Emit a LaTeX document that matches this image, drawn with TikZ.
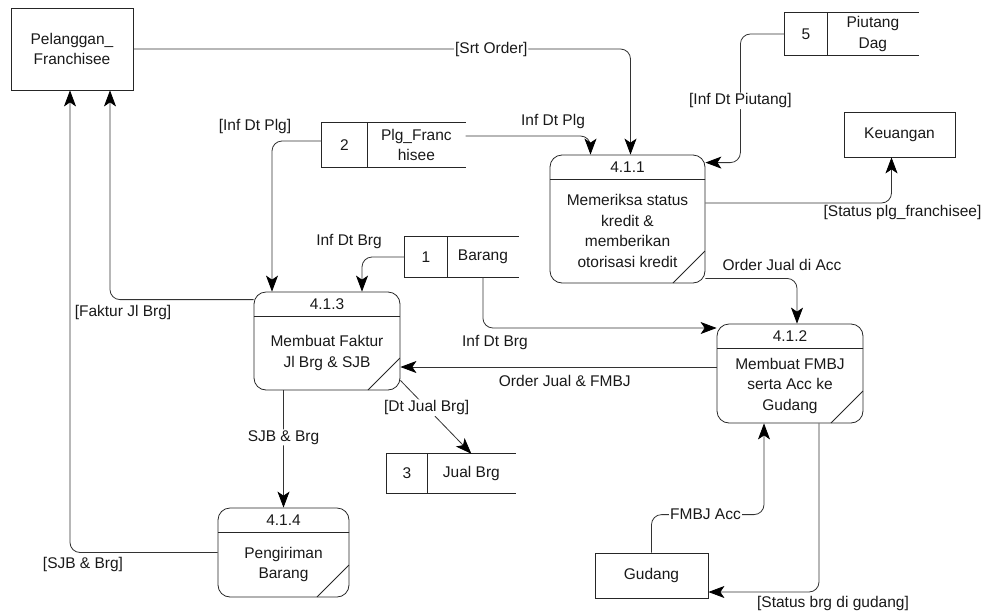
\documentclass[tikz,border=0pt]{standalone}
\usepackage{fontspec}
\setmainfont{Liberation Sans}
\usetikzlibrary{positioning,arrows.meta}

\begin{document}
\begin{tikzpicture}[x=1pt, y=-1pt,
  every node/.style={font=\fontsize{15.5}{20.5}\selectfont, text=black!90, align=center},
  ent/.style={rectangle, draw=black!85, line width=0.8pt, inner sep=0pt},
  proc/.style={rectangle, rounded corners=12pt, draw=black!85, line width=0.8pt, inner sep=0pt,
    path picture={\draw[sharp corners, line width=0.8pt, black!85]
      ([yshift=-24.5pt]path picture bounding box.north west) -- ([yshift=-24.5pt]path picture bounding box.north east)
      ([xshift=-32pt]path picture bounding box.south east) -- ([yshift=32pt]path picture bounding box.south east);}},
  num/.style={rectangle, minimum width=42pt, inner sep=0pt},
  store/.style={rectangle, inner sep=0pt},
  edge/.style={draw=black!85, line width=0.8pt, sharp corners},
  flow/.style={draw=black!80, line width=0.8pt, rounded corners=10pt, -{Stealth[length=16pt, width=12pt, inset=4pt, black]}},
  lbl/.style={fill=white, inner sep=1pt},
  txt/.style={inner sep=1pt},
]
\useasboundingbox (0,0) rectangle (989,614);

% externals
\node[ent, minimum width=122pt, minimum height=82pt] (pel) at (72,49) {Pelanggan\_\\Franchisee};
\node[ent, minimum width=111pt, minimum height=45pt] (keu) at (899.5,134.5) {Keuangan};
\node[ent, minimum width=113pt, minimum height=45pt] (gud) at (651.5,575.5) {Gudang};

% processes
\node[proc, minimum width=155pt, minimum height=128pt] (p411) at (627.5,219) {};
\node (h411) at ([yshift=-12.5pt]p411.north) {4.1.1};
\node (b411) at ([yshift=-12pt]p411.center) {Memeriksa status\\kredit \&\\memberikan\\otorisasi kredit};

\node[proc, minimum width=146pt, minimum height=99pt] (p412) at (790,373.5) {};
\node (h412) at ([yshift=-12.5pt]p412.north) {4.1.2};
\node (b412) at ([yshift=-12pt]p412.center) {Membuat FMBJ\\serta Acc ke\\Gudang};

\node[proc, minimum width=146pt, minimum height=98pt] (p413) at (327,341) {};
\node (h413) at ([yshift=-12.5pt]p413.north) {4.1.3};
\node (b413) at ([yshift=-12pt]p413.center) {Membuat Faktur\\Jl Brg \& SJB};

\node[proc, minimum width=131pt, minimum height=89pt] (p414) at (283.5,552.5) {};
\node (h414) at ([yshift=-12.5pt]p414.north) {4.1.4};
\node (b414) at ([yshift=-12pt]p414.center) {Pengiriman\\Barang};

% data stores
\node[num, minimum width=45pt, minimum height=44pt] (n2) at (344.5,145) {2};
\node[store, minimum width=98pt, minimum height=44pt, right=0pt of n2] (s2) {Plg\_Franc\\hisee};
\node[num, minimum height=42pt] (n5) at (806,34) {5};
\node[store, minimum width=91pt, minimum height=42pt, right=0pt of n5] (s5) {Piutang\\Dag};
\node[num, minimum height=40pt] (n1) at (426,257) {1};
\node[store, minimum width=71pt, minimum height=40pt, right=0pt of n1] (s1) {Barang};
\node[num, minimum width=40pt, minimum height=39pt] (n3) at (407,473.5) {3};
\node[store, minimum width=88pt, minimum height=39pt, right=0pt of n3] (s3) {Jual Brg};
\foreach \n/\s in {n2/s2, n5/s5, n1/s1, n3/s3}
  \draw[edge] (\s.north east) -- (\n.north west) -- (\n.south west) -- (\s.south east)
    (\n.north east) -- (\n.south east);

% flows
\draw[flow] (pel.east) -| node[lbl, pos=0.36] (l1) {[Srt Order]} ([xshift=3pt]p411.north);
\draw[flow] ([yshift=9pt]s2.east) -| node[txt, pos=0.35, above=6pt] (l2) {Inf Dt Plg} ([xshift=-37pt]p411.north);
\draw[flow] ([yshift=4pt]n2.west) -| node[txt, pos=0.5, above=6pt, xshift=-17pt] (l3) {[Inf Dt Plg]} ([xshift=-55pt]p413.north);
\draw[flow] (n5.west) -| node[lbl, pos=0.76] (l4) {[Inf Dt Piutang]} ([xshift=35pt, yshift=-8pt]p411.north east) -- ([yshift=-8pt]p411.north east);
\draw[flow] ([yshift=16pt]p411.east) -| node[txt, pos=0.5, below=1pt, xshift=11pt] (l5) {[Status plg\_franchisee]} ([xshift=-8pt]keu.south);
\draw[flow] ([yshift=5pt]p411.south east) -| node[txt, pos=0.5, above=6pt, xshift=-15pt] (l6) {Order Jual di Acc} ([xshift=7pt]p412.north);
\draw[flow] (n1.west) -| node[txt, pos=0.5, above=7pt, xshift=-13pt] (l7) {Inf Dt Brg} ([xshift=35pt]p413.north);
\draw[flow] (s1.south) |- node[txt, pos=0.5, below=6pt, xshift=12pt] (l8) {Inf Dt Brg} ([yshift=45.5pt]p412.west);
\draw[flow] ([yshift=6.5pt]p412.west) -- node[txt, pos=0.48, below=7pt] (l9) {Order Jual \& FMBJ} ([yshift=6.5pt]p412.west -| p413.east);
\draw[flow] ([yshift=-8pt]p413.north west) -| node[txt, pos=0.5, below=4pt, xshift=13pt] (l10) {[Faktur Jl Brg]} ([xshift=38pt]pel.south);
\draw[flow] (p413.south -| p414.north) -- node[lbl, pos=0.4] (l11) {SJB \& Brg} (p414.north);
\draw[flow] (p414.west) -| node[txt, pos=0.5, below=3pt, xshift=13pt] (l12) {[SJB \& Brg]} ([xshift=-2pt]pel.south);
\draw[flow] ([yshift=10pt]p413.south east) -- node[lbl, pos=0.37] (l13) {[Dt Jual Brg]} (s3.north);
\draw[flow] (gud.north) -- ++(0,-38) -| node[lbl, pos=0.24] (l14) {FMBJ Acc} ([xshift=-26pt]p412.south);
\draw[flow] ([xshift=29pt]p412.south) |- node[txt, pos=0.5, below=3pt, xshift=14pt] (l15) {[Status brg di gudang]} ([yshift=-16.5pt]gud.east);
\end{tikzpicture}
\end{document}
